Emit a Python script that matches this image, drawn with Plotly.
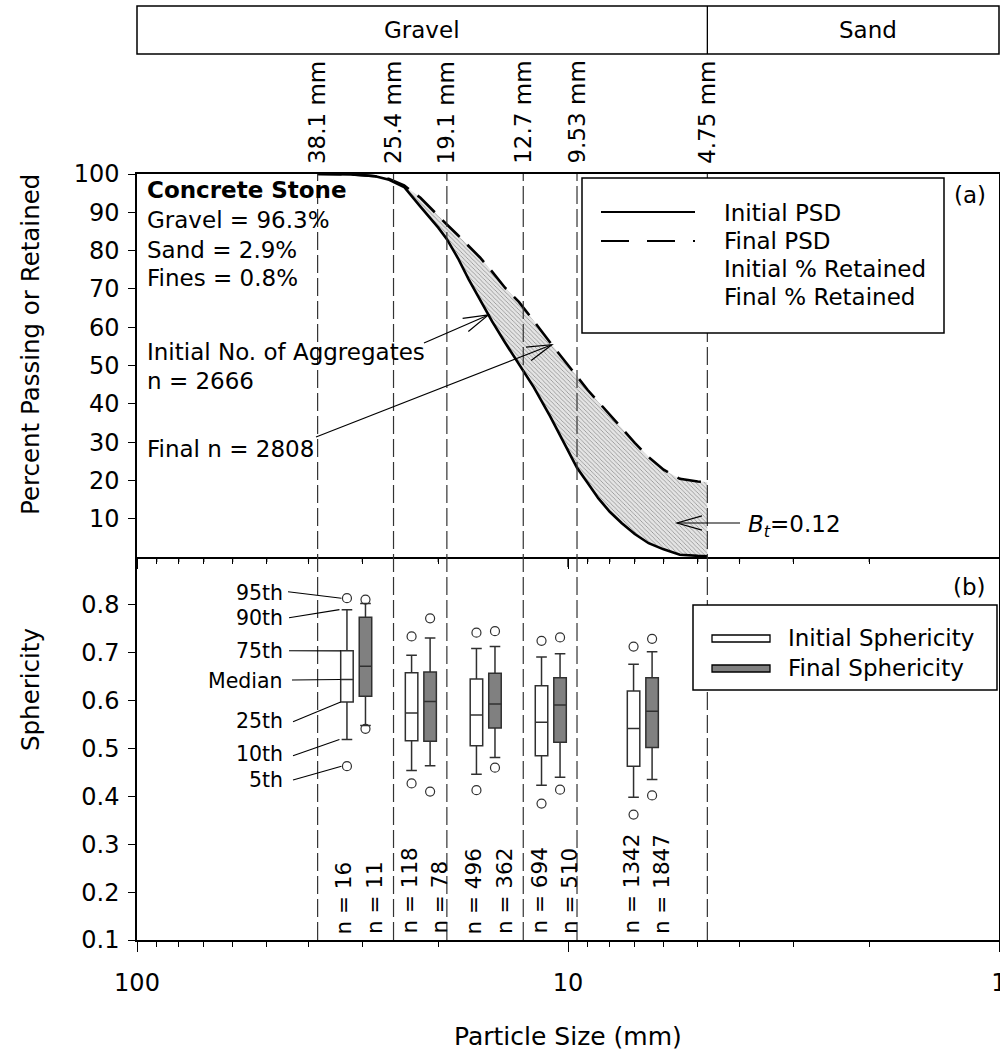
import numpy as np
import plotly.graph_objects as go

# ---------------- data ----------------
sieve_mm = [38.1, 25.4, 19.1, 12.7, 9.53, 4.75]
sieve_text = ["38.1 mm", "25.4 mm", "19.1 mm", "12.7 mm", "9.53 mm", "4.75 mm"]

# particle-size distribution (percent passing)
psd_size_mm = [38.1, 35, 32, 30, 28, 26, 24, 22, 20, 19.1, 18, 17, 16, 15, 14, 13,
               12.7, 12, 11, 10, 9.53, 9, 8.5, 8, 7.5, 7, 6.5, 6, 5.5, 5, 4.75]
psd_initial = [100, 100, 99.9, 99.7, 99.4, 98.5, 96.6, 91.5, 86, 83, 78, 72.5, 67, 61.5, 56, 50.5,
               48.6, 44.3, 36.7, 27.8, 23.3, 19.3, 15.3, 11.8, 8.8, 6.0, 3.6, 2.0, 0.6, 0.3, 0.2]
psd_final = [100, 100, 99.9, 99.7, 99.4, 98.7, 97, 93.8, 89, 86.8, 84, 81.2, 78.2, 74.5, 70.3, 66.6,
             65.2, 61.6, 56, 50, 47.2, 43.6, 40.5, 37.1, 33.6, 29.8, 26.1, 22.8, 20.4, 19.7, 19.6]

# size classes between consecutive sieves
class_upper_mm = [38.1, 25.4, 19.1, 12.7, 9.53]
class_lower_mm = [25.4, 19.1, 12.7, 9.53, 4.75]

# sphericity percentiles per class
init_p5 = [0.463, 0.427, 0.413, 0.385, 0.362]
init_p10 = [0.519, 0.454, 0.446, 0.423, 0.398]
init_p25 = [0.597, 0.516, 0.506, 0.485, 0.463]
init_p50 = [0.644, 0.574, 0.570, 0.555, 0.542]
init_p75 = [0.704, 0.658, 0.645, 0.631, 0.620]
init_p90 = [0.790, 0.695, 0.709, 0.691, 0.676]
init_p95 = [0.814, 0.734, 0.742, 0.725, 0.713]

final_p5 = [0.541, 0.410, 0.460, 0.414, 0.402]
final_p10 = [0.548, 0.464, 0.481, 0.440, 0.435]
final_p25 = [0.609, 0.515, 0.543, 0.513, 0.502]
final_p50 = [0.672, 0.598, 0.593, 0.591, 0.578]
final_p75 = [0.774, 0.660, 0.657, 0.648, 0.648]
final_p90 = [0.803, 0.731, 0.713, 0.698, 0.702]
final_p95 = [0.811, 0.772, 0.745, 0.732, 0.729]

n_initial = [16, 118, 496, 694, 1342]
n_final = [11, 78, 362, 510, 1847]

# ---------------- geometry helpers ----------------
W, H = 1000, 1055
L, R, T, B = 137, 999, 174, 940
MID = (T + B) / 2
DEC = (R - L) / 2          # pixels per decade on the size axis
FONT = "DejaVu Sans"


def px(x):
    return (x - L) / (R - L)


def py(y):
    return (B - y) / (B - T)


def x_of_mm(d):
    return L + DEC * (2 - np.log10(d))


def y_of_pct(v):
    return MID - v / 100 * (B - MID)


def y_of_sph(v):
    return B - (v - 0.1) / 0.8 * (B - MID)


def on_curve(d, vals):
    lx = np.log10(psd_size_mm)[::-1]
    v = np.array(vals, dtype=float)[::-1]
    return x_of_mm(d), y_of_pct(np.interp(np.log10(d), lx, v))


class_mid = (np.log10(class_upper_mm) + np.log10(class_lower_mm)) / 2
pos_init = class_mid + 0.02
pos_final = class_mid - 0.023
BOX_W = 0.029

fig = go.Figure()

# ---------------- panel (a): PSD curves ----------------
fig.add_trace(go.Scatter(
    x=psd_size_mm, y=psd_initial, xaxis="x2", yaxis="y2", mode="lines",
    line=dict(color="black", width=2.6), name="Initial PSD", hoverinfo="skip"))
fig.add_trace(go.Scatter(
    x=psd_size_mm, y=psd_final, xaxis="x2", yaxis="y2", mode="lines",
    line=dict(color="black", width=2.6, dash="24px,11px"), name="Final PSD",
    fill="tonexty", fillcolor="#dcdcdc",
    fillpattern=dict(shape="\\", size=3, solidity=0.25, fgcolor="#8a8a8a",
                     bgcolor="#e4e4e4", fillmode="replace"),
    hoverinfo="skip"))

# ---------------- panel (b): sphericity boxes ----------------
box_line = dict(color="#303030", width=1.5)
fig.add_trace(go.Box(
    x=list(pos_init), q1=init_p25, median=init_p50, q3=init_p75,
    lowerfence=init_p10, upperfence=init_p90, xaxis="x3", yaxis="y",
    width=BOX_W, whiskerwidth=0.85, fillcolor="white", line=box_line,
    boxpoints=False, name="Initial Sphericity", hoverinfo="skip"))
fig.add_trace(go.Box(
    x=list(pos_final), q1=final_p25, median=final_p50, q3=final_p75,
    lowerfence=final_p10, upperfence=final_p90, xaxis="x3", yaxis="y",
    width=BOX_W, whiskerwidth=0.85, fillcolor="#808080", line=box_line,
    boxpoints=False, name="Final Sphericity", hoverinfo="skip"))
outlier_marker = dict(symbol="circle-open", size=9, color="#303030", line=dict(width=1.2))
fig.add_trace(go.Scatter(
    x=list(pos_init) * 2, y=init_p5 + init_p95, xaxis="x3", yaxis="y",
    mode="markers", marker=outlier_marker, hoverinfo="skip"))
fig.add_trace(go.Scatter(
    x=list(pos_final) * 2, y=final_p5 + final_p95, xaxis="x3", yaxis="y",
    mode="markers", marker=outlier_marker, hoverinfo="skip"))

# ---------------- shapes ----------------
shapes = []
for d in sieve_mm:
    shapes.append(dict(type="line", xref="x", yref="paper", x0=d, x1=d, y0=0, y1=1,
                       line=dict(color="#333333", width=1.2, dash="18px,5px"), layer="above"))


def rect(x0, y0, x1, y1, fill="white", width=1.5):
    return dict(type="rect", xref="paper", yref="paper", x0=px(x0), x1=px(x1),
                y0=py(y1), y1=py(y0), fillcolor=fill,
                line=dict(color="black", width=width), layer="above")


def seg(x0, y0, x1, y1, width=1.2, dash=None, color="black"):
    ln = dict(color=color, width=width)
    if dash:
        ln["dash"] = dash
    return dict(type="line", xref="paper", yref="paper", x0=px(x0), y0=py(y0),
                x1=px(x1), y1=py(y1), line=ln, layer="above")


def arrow(xt, yt, xh, yh, length=26, spread=16):
    ang = np.arctan2(yt - yh, xt - xh)
    arms = []
    for s in (-1, 1):
        a = ang + np.radians(spread) * s
        arms.append((xh + length * np.cos(a), yh + length * np.sin(a)))
    path = "M {:.5f},{:.5f} L {:.5f},{:.5f} L {:.5f},{:.5f}".format(
        px(arms[0][0]), py(arms[0][1]), px(xh), py(yh), px(arms[1][0]), py(arms[1][1]))
    return [seg(xt, yt, xh, yh, width=1.2),
            dict(type="path", xref="paper", yref="paper", path=path,
                 line=dict(color="black", width=1.2), layer="above")]


# legend (a)
shapes.append(rect(582, 178, 944, 333))
shapes.append(seg(601, 212, 695, 212, width=2.2))
shapes.append(seg(601, 241, 695, 241, width=2.2, dash="28px,18px"))
# legend (b)
shapes.append(rect(693, 605, 997, 690))
shapes.append(rect(712, 635, 770, 642, fill="white", width=1.3))
shapes.append(rect(712, 665, 770, 672, fill="#808080", width=1.3))
# soil-class band above the chart
shapes.append(rect(137, 6, 999, 54, fill="rgba(0,0,0,0)"))
shapes.append(dict(type="line", xref="x", yref="paper", x0=4.75, x1=4.75,
                   y0=py(54), y1=py(6), line=dict(color="black", width=1.3)))

# short ticks along the boundary between the two panels
for v in [90, 80, 70, 60, 50, 40, 30, 20, 9, 8, 7, 6, 5, 4, 3, 2]:
    shapes.append(dict(type="line", xref="x", yref="paper", x0=v, x1=v,
                       y0=py(MID), y1=py(MID + 5), line=dict(color="black", width=1.2)))
shapes.append(dict(type="line", xref="x", yref="paper", x0=10, x1=10,
                   y0=py(MID), y1=py(MID + 10), line=dict(color="black", width=1.3)))

# arrows pointing at the curves and the shaded band
xh, yh = on_curve(15.3, psd_initial)
shapes += arrow(424, 343, xh, yh)
xh, yh = on_curve(10.9, psd_final)
shapes += arrow(316, 437, xh, yh)
shapes += arrow(740, 523, 677, 523)

# percentile leader lines onto the first initial box
cx = L + DEC * (2 - pos_init[0])
half = BOX_W / 2 * DEC
pct_names = ["95th", "90th", "75th", "Median", "25th", "10th", "5th"]
pct_text_y = [592.7, 618.3, 651, 680.7, 720.7, 754, 780]
pct_start = [(288, 591.7), (289, 617.7), (289, 650.7), (292, 680), (293, 721.7), (293, 755.7), (293, 780)]
pct_end = [(cx - 5.5, y_of_sph(init_p95[0])), (cx - 7.5, y_of_sph(init_p90[0])),
           (cx - half, y_of_sph(init_p75[0])), (cx - half, y_of_sph(init_p50[0])),
           (cx - half, y_of_sph(init_p25[0])), (cx - 7.5, y_of_sph(init_p10[0])),
           (cx - 5.5, y_of_sph(init_p5[0]))]
for (x0, y0), (x1, y1) in zip(pct_start, pct_end):
    shapes.append(seg(x0, y0, x1, y1, width=1.1))

# ---------------- annotations ----------------
ann = []


def text(x, y, s, size=23, xanchor="left", yanchor="middle", angle=0):
    ann.append(dict(x=px(x), y=py(y), xref="paper", yref="paper", text=s, showarrow=False,
                    xanchor=xanchor, yanchor=yanchor, textangle=angle,
                    font=dict(family=FONT, size=size, color="black")))


text(145, 190, "<b>Concrete Stone</b>")
text(145, 220, "Gravel = 96.3%")
text(145, 249.5, "Sand = 2.9%")
text(145, 278, "Fines = 0.8%")
text(145, 352, "Initial No. of Aggregates")
text(145, 381, "n = 2666")
text(145, 449, "Final n = 2808")
text(746, 526, "<i>B</i><sub><i>t</i></sub>=0.12")
text(988, 195, "(a)", xanchor="right")
text(988, 587, "(b)", xanchor="right")

for yy, s in zip([212.7, 241, 269, 296.7], ["Initial PSD", "Final PSD", "Initial % Retained", "Final % Retained"]):
    text(722, yy, s)
text(786, 638, "Initial Sphericity")
text(786, 668, "Final Sphericity")

text((L + x_of_mm(4.75)) / 2, 30, "Gravel", xanchor="center")
text(868, 30, "Sand", xanchor="center")

for d, s in zip(sieve_mm, sieve_text):
    ann.append(dict(x=np.log10(d), y=py(166), xref="x", yref="paper", text=s, showarrow=False,
                    xanchor="center", yanchor="bottom", textangle=-90,
                    font=dict(family=FONT, size=23, color="black")))

for p, n in zip(pos_init, n_initial):
    ann.append(dict(x=p, y=py(936), xref="x3", yref="paper", text=f"n = {n}", showarrow=False,
                    xanchor="center", yanchor="bottom", textangle=-90, xshift=-3,
                    font=dict(family=FONT, size=21.5, color="black")))
for p, n in zip(pos_final, n_final):
    ann.append(dict(x=p, y=py(936), xref="x3", yref="paper", text=f"n = {n}", showarrow=False,
                    xanchor="center", yanchor="bottom", textangle=-90, xshift=9,
                    font=dict(family=FONT, size=21.5, color="black")))

for s, yy in zip(pct_names, pct_text_y):
    text(285, yy, s, size=20.5, xanchor="right")

text(30, 345, "Percent Passing or Retained", size=24.5, xanchor="center", angle=-90)
text(30, 690, "Sphericity", size=24.5, xanchor="center", angle=-90)
text(568, 1036, "Particle Size (mm)", size=25, xanchor="center")

# ---------------- axes ----------------
minor_vals = [90, 80, 70, 60, 50, 40, 30, 20, 9, 8, 7, 6, 5, 4, 3, 2]
x_common = dict(type="log", range=[2, 0], tickmode="array", tickvals=[100, 10, 1],
                ticks="outside", ticklen=10, tickwidth=1.3, tickcolor="black",
                showline=True, linecolor="black", linewidth=1.5,
                showgrid=False, zeroline=False, automargin=False,
                minor=dict(tickmode="array", tickvals=minor_vals, ticks="outside",
                           ticklen=5, tickwidth=1.2, tickcolor="black", showgrid=False))
y_common = dict(ticks="outside", ticklen=7, tickwidth=1.3, tickcolor="black",
                showline=True, linecolor="black", linewidth=1.5, mirror=True,
                showgrid=False, zeroline=False, automargin=False,
                tickfont=dict(family=FONT, size=24, color="black"), ticklabelstandoff=4)

fig.update_layout(
    width=W, height=H,
    margin=dict(l=L, r=W - R, t=T, b=H - B, pad=0, autoexpand=False),
    paper_bgcolor="white", plot_bgcolor="white",
    showlegend=False, hovermode=False, boxmode="overlay",
    font=dict(family=FONT, size=23, color="black"),
    xaxis=dict(**x_common, anchor="y", domain=[0, 1], ticktext=["100", "10", "1"],
               mirror=False, tickfont=dict(family=FONT, size=24, color="black"),
               ticklabelstandoff=10, ticklabeloverflow="allow"),
    xaxis2=dict(**x_common, anchor="y2", domain=[0, 1], mirror=True, showticklabels=False),
    xaxis3=dict(range=[2, 0], overlaying="x", anchor="y", visible=False),
    yaxis=dict(**y_common, domain=[0, 0.5], range=[0.1, 0.9],
               tickvals=[0.1, 0.2, 0.3, 0.4, 0.5, 0.6, 0.7, 0.8]),
    yaxis2=dict(**y_common, domain=[0.5, 1], range=[0, 100],
                tickvals=[10, 20, 30, 40, 50, 60, 70, 80, 90, 100]),
    shapes=shapes,
    annotations=ann,
)

fig.write_html("out.html")
